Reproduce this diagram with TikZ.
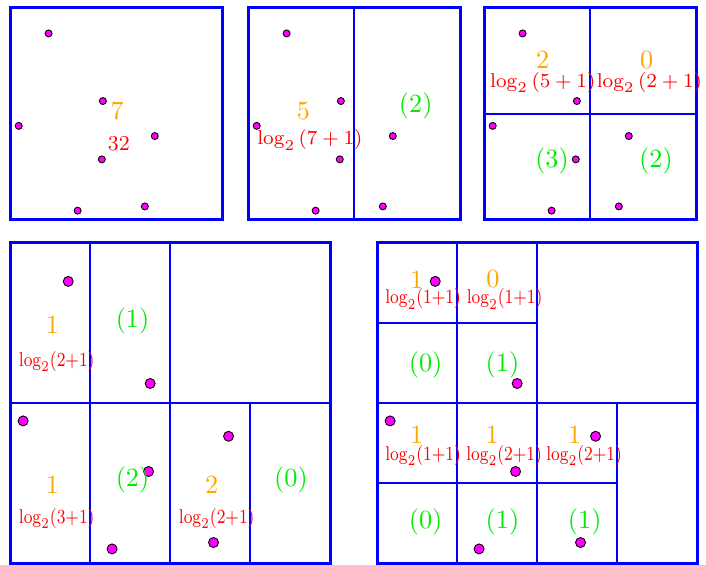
\documentclass[tikz,border=0pt]{standalone}
\usetikzlibrary{calc}
\definecolor{cntorange}{RGB}{255,165,0}
\definecolor{lightgreen}{RGB}{0,235,0}
\definecolor{dotpink}{RGB}{255,0,255}
% the seven points, as fractions of a panel (y measured downwards)
\newcommand{\pointset}[1]{%
  \foreach \px/\py in {0.182/0.120, 0.438/0.439, 0.041/0.556, 0.683/0.604,
                       0.433/0.714, 0.319/0.956, 0.636/0.936}
    \path[pt] (\px,\py) circle (#1);}
% squeezed log label of the lower panels
\newcommand{\lgs}[1]{\scalebox{0.82}[1]{$\log_2(#1{+}1)$}}
\begin{document}
\begin{tikzpicture}[x=0.4pt, y=0.4pt,
  frame/.style={draw=blue, line width=1.2pt},
  cut/.style={draw=blue, line width=0.5pt},
  pt/.style={draw=black, fill=dotpink, line width=0.35pt},
  cnt/.style={text=cntorange, inner sep=0pt, font=\fontsize{10.5}{12}\selectfont},
  gain/.style={text=red, inner sep=0pt, font=\fontsize{8.5}{10}\selectfont},
  rest/.style={text=lightgreen, inner sep=0pt, font=\fontsize{10.5}{12}\selectfont}]
\useasboundingbox (0,0) rectangle (706,565);

% Panel 1: no cut yet
\begin{scope}[shift={(10,557)}, x=84.8pt, y=-84.8pt]
\pointset{1.4pt}
\draw[frame] (0,0) rectangle (1,1);
\node[cnt]  (a7)  at (0.506,0.486) {7};
\node[gain] (a32) at (0.513,0.642) {32};
\end{scope}

% Panel 2: one vertical cut
\begin{scope}[shift={(248,557)}, x=84.8pt, y=-84.8pt]
\pointset{1.4pt}
\draw[cut] (0.5,0) -- (0.5,1);
\draw[frame] (0,0) rectangle (1,1);
\node[cnt]  (b5)   at (0.261,0.486) {5};
\node[gain] (blog) at (0.292,0.623) {$\log_2{(7+1)}$};
\node[rest] (bg)   at (0.791,0.462) {(2)};
\end{scope}

% Panel 3: four quadrants
\begin{scope}[shift={(484,557)}, x=84.8pt, y=-84.8pt]
\pointset{1.4pt}
\draw[cut] (0.5,0) -- (0.5,1);
\draw[cut] (0,0.5) -- (1,0.5);
\draw[frame] (0,0) rectangle (1,1);
\node[cnt]  (c2)    at (0.277,0.245) {2};
\node[gain] (clogA) at (0.277,0.352) {$\log_2{(5+1)}$};
\node[cnt]  (c0)    at (0.767,0.245) {0};
\node[gain] (clogB) at (0.780,0.352) {$\log_2{(2+1)}$};
\node[rest] (cgA)   at (0.321,0.720) {(3)};
\node[rest] (cgB)   at (0.811,0.720) {(2)};
\end{scope}

% Panel 4
\begin{scope}[shift={(10,322)}, x=128pt, y=-128pt]
\draw[cut] (0.25,0) -- (0.25,1);
\draw[cut] (0.5,0) -- (0.5,1);
\draw[cut] (0,0.5) -- (1,0.5);
\draw[cut] (0.75,0.5) -- (0.75,1);
\draw[frame] (0,0) rectangle (1,1);
\pointset{2pt}
\node[cnt]  (dA)    at (0.133,0.256) {1};
\node[gain] (dlogA) at (0.146,0.371) {\lgs{2}};
\node[rest] (dgA)   at (0.383,0.244) {(1)};
\node[cnt]  (dB)    at (0.133,0.756) {1};
\node[gain] (dlogB) at (0.146,0.862) {\lgs{3}};
\node[rest] (dgB)   at (0.383,0.741) {(2)};
\node[cnt]  (dC)    at (0.630,0.756) {2};
\node[gain] (dlogC) at (0.646,0.862) {\lgs{2}};
\node[rest] (dgC)   at (0.878,0.741) {(0)};
\end{scope}

% Panel 5
\begin{scope}[shift={(377,322)}, x=128pt, y=-128pt]
\draw[cut] (0.25,0) -- (0.25,1);
\draw[cut] (0.5,0) -- (0.5,1);
\draw[cut] (0,0.5) -- (1,0.5);
\draw[cut] (0,0.25) -- (0.5,0.25);
\draw[cut] (0,0.75) -- (0.75,0.75);
\draw[cut] (0.75,0.5) -- (0.75,1);
\draw[frame] (0,0) rectangle (1,1);
\pointset{2pt}
\node[cnt]  (eA)    at (0.124,0.114) {1};
\node[gain] (elogA) at (0.144,0.175) {\lgs{1}};
\node[cnt]  (eB)    at (0.362,0.114) {0};
\node[gain] (elogB) at (0.399,0.175) {\lgs{1}};
\node[rest] (egA)   at (0.152,0.381) {(0)};
\node[rest] (egB)   at (0.392,0.381) {(1)};
\node[cnt]  (eC)    at (0.124,0.598) {1};
\node[gain] (elogC) at (0.144,0.665) {\lgs{1}};
\node[cnt]  (eD)    at (0.360,0.598) {1};
\node[gain] (elogD) at (0.397,0.665) {\lgs{2}};
\node[cnt]  (eE)    at (0.618,0.598) {1};
\node[gain] (elogE) at (0.647,0.665) {\lgs{2}};
\node[rest] (egC)   at (0.152,0.871) {(0)};
\node[rest] (egD)   at (0.392,0.871) {(1)};
\node[rest] (egE)   at (0.649,0.871) {(1)};
\end{scope}
\end{tikzpicture}
\end{document}
